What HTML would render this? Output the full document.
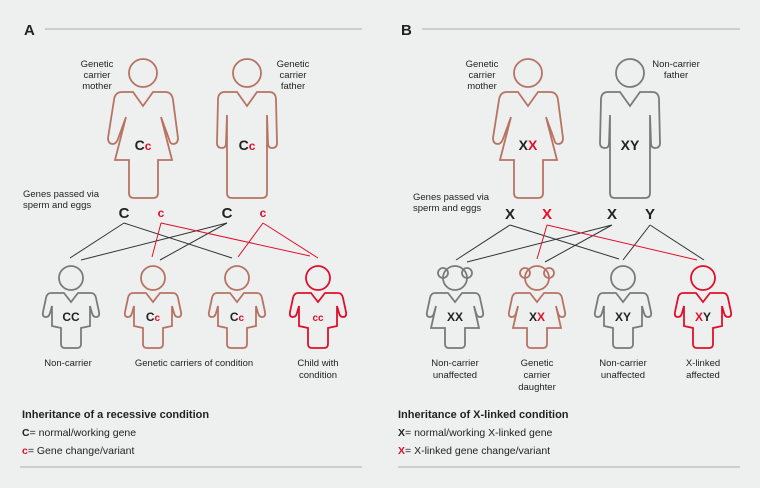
<!DOCTYPE html>
<html><head><meta charset="utf-8"><style>
html,body{margin:0;padding:0;background:#eef0f0;}
svg{display:block;font-family:"Liberation Sans",sans-serif;}
</style></head><body>
<svg width="760" height="488" viewBox="0 0 760 488" xmlns="http://www.w3.org/2000/svg">
<defs>
<path id="fem" d="M-10 19 L0 33 L10 19 L22 19 Q29 19 30 27 L35 65 Q35 71 30 71 Q27 71 26 66 L18 44 L29 87 L15 87 L15 120 Q15 125 10 125 L-9 125 Q-14 125 -14 120 L-14 87 L-28 87 L-17 44 L-25 66 Q-27 71 -30 71 Q-35 71 -35 65 L-29 27 Q-28 19 -21 19 Z"/>
<path id="mal" d="M-10 19 L0 33 L10 19 L22 19 Q29 19 29 27 L30 70 Q30 75 25 75 Q21 75 21 70 L20 42 L20 120 Q20 125 15 125 L-15 125 Q-20 125 -20 120 L-20 42 L-21 70 Q-21 75 -25 75 Q-30 75 -30 70 L-29 27 Q-29 19 -22 19 Z"/>
<path id="boy" d="M-7 15 L0 24 L7 15 L20 15 Q24 15 25 20 L28 34 Q29 39 25 39 Q22 39 21 35 L19 28 L19 48 L10 50 L10 66 Q10 70 6 70 L-6 70 Q-10 70 -10 66 L-10 50 L-19 48 L-19 28 L-21 35 Q-22 39 -25 39 Q-29 39 -28 34 L-25 20 Q-24 15 -20 15 Z"/>
<path id="girl" d="M-7 15 L0 24 L7 15 L20 15 Q24 15 25 20 L28 34 Q29 39 25 39 Q22 39 21 35 L19 28 L24 50 L10 50 L10 66 Q10 70 6 70 L-6 70 Q-10 70 -10 66 L-10 50 L-24 50 L-19 28 L-21 35 Q-22 39 -25 39 Q-29 39 -28 34 L-25 20 Q-24 15 -20 15 Z"/>
</defs>
<g fill="none" stroke-width="1.8">
<line x1="45" y1="29" x2="362" y2="29" stroke="#aaa" stroke-width="1"/>
<line x1="422" y1="29" x2="740" y2="29" stroke="#aaa" stroke-width="1"/>
<line x1="20" y1="467" x2="362" y2="467" stroke="#aaa" stroke-width="1"/>
<line x1="398" y1="467" x2="740" y2="467" stroke="#aaa" stroke-width="1"/>
<g stroke="#b87363"><circle cx="143" cy="73" r="14"/><use href="#fem" x="143" y="73"/>
<circle cx="247" cy="73" r="14"/><use href="#mal" x="247" y="73"/></g>
<g stroke="#333" stroke-width="1"><path d="M124 223 L70 258 M124 223 L232 258 M227 223 L81 260 M227 223 L160 260"/></g>
<g stroke="#e0102a" stroke-width="1"><path d="M161 223 L152 257 M161 223 L310 256 M263 223 L238 257 M263 223 L318 258"/></g>
<g stroke="#7a7a7a"><circle cx="71" cy="278" r="12"/><use href="#boy" x="71" y="278"/></g>
<g stroke="#b87363"><circle cx="153" cy="278" r="12"/><use href="#boy" x="153" y="278"/>
<circle cx="237" cy="278" r="12"/><use href="#boy" x="237" y="278"/></g>
<g stroke="#e0102a"><circle cx="318" cy="278" r="12"/><use href="#boy" x="318" y="278"/></g>
<g stroke="#b87363"><circle cx="528" cy="73" r="14"/><use href="#fem" x="528" y="73"/></g>
<g stroke="#7a7a7a"><circle cx="630" cy="73" r="14"/><use href="#mal" x="630" y="73"/></g>
<g stroke="#333" stroke-width="1"><path d="M510 225 L456 260 M510 225 L619 259 M612 225 L467 262 M612 225 L545 262 M650 225 L623 260 M650 225 L704 260"/></g>
<g stroke="#e0102a" stroke-width="1"><path d="M547 225 L537 259 M547 225 L697 260"/></g>
<g stroke="#7a7a7a"><circle cx="455" cy="278" r="12"/><circle cx="443" cy="273" r="5"/><circle cx="467" cy="273" r="5"/><use href="#girl" x="455" y="278"/>
<circle cx="623" cy="278" r="12"/><use href="#boy" x="623" y="278"/></g>
<g stroke="#b87363"><circle cx="537" cy="278" r="12"/><circle cx="525" cy="273" r="5"/><circle cx="549" cy="273" r="5"/><use href="#girl" x="537" y="278"/></g>
<g stroke="#e0102a"><circle cx="703" cy="278" r="12"/><use href="#boy" x="703" y="278"/></g>
</g>
<g font-size="9.5" fill="#222" text-anchor="middle">
<text x="97" y="67">Genetic</text><text x="97" y="78">carrier</text><text x="97" y="89">mother</text>
<text x="293" y="67">Genetic</text><text x="293" y="78">carrier</text><text x="293" y="89">father</text>
<text x="482" y="67">Genetic</text><text x="482" y="78">carrier</text><text x="482" y="89">mother</text>
<text x="676" y="67">Non-carrier</text><text x="676" y="78">father</text>
<text x="68" y="366">Non-carrier</text>
<text x="194" y="366">Genetic carriers of condition</text>
<text x="318" y="366">Child with</text><text x="318" y="378">condition</text>
<text x="455" y="366">Non-carrier</text><text x="455" y="378">unaffected</text>
<text x="537" y="366">Genetic</text><text x="537" y="378">carrier</text><text x="537" y="390">daughter</text>
<text x="623" y="366">Non-carrier</text><text x="623" y="378">unaffected</text>
<text x="703" y="366">X-linked</text><text x="703" y="378">affected</text>
</g>
<g font-size="9.5" fill="#222">
<text x="23" y="197">Genes passed via</text><text x="23" y="208">sperm and eggs</text>
<text x="413" y="200">Genes passed via</text><text x="413" y="211">sperm and eggs</text>
</g>
<g font-weight="bold" fill="#222">
<text x="24" y="35" font-size="15">A</text>
<text x="401" y="35" font-size="15">B</text>
<g font-size="15" text-anchor="middle">
<text x="124" y="218">C</text><text x="161" y="217" fill="#e0102a" font-size="12">c</text>
<text x="227" y="218">C</text><text x="263" y="217" fill="#e0102a" font-size="12">c</text>
<text x="510" y="219">X</text><text x="547" y="219" fill="#e0102a">X</text>
<text x="612" y="219">X</text><text x="650" y="219">Y</text>
</g>
<g font-size="14" text-anchor="middle">
<text x="143" y="150">C<tspan fill="#e0102a" font-size="12">c</tspan></text>
<text x="247" y="150">C<tspan fill="#e0102a" font-size="12">c</tspan></text>
<text x="528" y="150">X<tspan fill="#e0102a">X</tspan></text>
<text x="630" y="150">XY</text>
</g>
<g font-size="12" text-anchor="middle">
<text x="71" y="321">CC</text>
<text x="153" y="321">C<tspan fill="#e0102a" font-size="10">c</tspan></text>
<text x="237" y="321">C<tspan fill="#e0102a" font-size="10">c</tspan></text>
<text x="318" y="321" fill="#e0102a" font-size="10">cc</text>
<text x="455" y="321">XX</text>
<text x="537" y="321">X<tspan fill="#e0102a">X</tspan></text>
<text x="623" y="321">XY</text>
<text x="703" y="321"><tspan fill="#e0102a">X</tspan>Y</text>
</g>
<text x="22" y="418" font-size="11">Inheritance of a recessive condition</text>
<text x="398" y="418" font-size="11">Inheritance of X-linked condition</text>
</g>
<g font-size="10.5" fill="#222">
<text x="22" y="436"><tspan font-weight="bold">C</tspan>= normal/working gene</text>
<text x="22" y="454"><tspan font-weight="bold" fill="#e0102a">c</tspan>= Gene change/variant</text>
<text x="398" y="436"><tspan font-weight="bold">X</tspan>= normal/working X-linked gene</text>
<text x="398" y="454"><tspan font-weight="bold" fill="#e0102a">X</tspan>= X-linked gene change/variant</text>
</g>
</svg>
</body></html>
